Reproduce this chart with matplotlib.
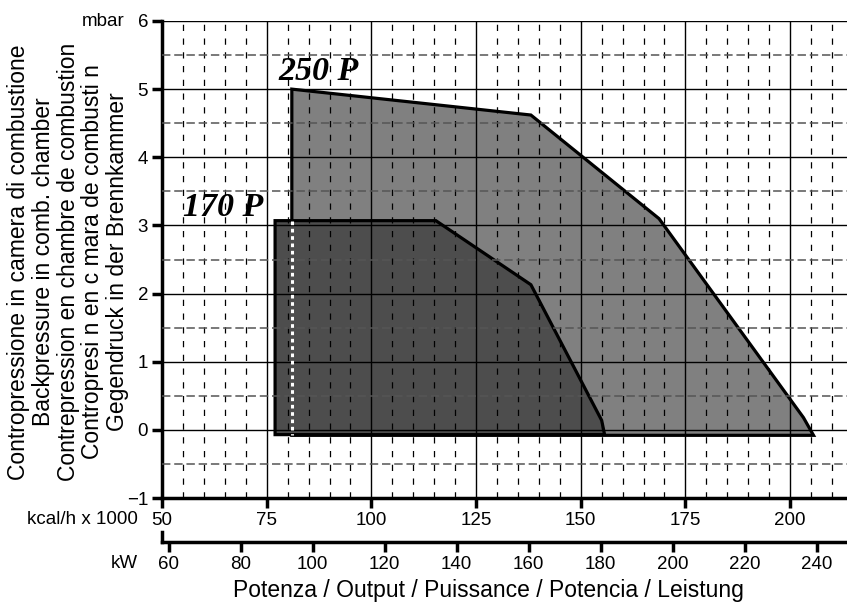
import matplotlib
matplotlib.use("Agg")
import matplotlib.pyplot as plt
from matplotlib.ticker import MultipleLocator
from matplotlib.lines import Line2D

plt.rcParams['font.family'] = ['Liberation Sans', 'DejaVu Sans']

# working ranges (kcal/h x 1000 vs mbar)
kcal_250 = [81.0, 138.1, 168.7, 203.2, 205.6, 81.0]
mbar_250 = [5.0, 4.62, 3.10, 0.18, -0.08, -0.08]
kcal_170 = [77.0, 115.4, 138.1, 155.0, 155.7, 77.0]
mbar_170 = [3.07, 3.07, 2.13, 0.14, -0.07, -0.07]

models = ['250 P', '170 P']
label_x = [87.3, 64.6]
label_y = [5.26, 3.26]

kcal_ticks = [50, 75, 100, 125, 150, 175, 200]
kw_ticks = [60, 80, 100, 120, 140, 160, 180, 200, 220, 240]
mbar_ticks = [-1, 0, 1, 2, 3, 4, 5, 6]
KW_PER_KCAL = 1.163

ylabel = ("Contropressione in camera di combustione\n"
          "Backpressure in comb. chamber\n"
          "Contrepression en chambre de combustion\n"
          "Contropresi n en c mara de combusti n\n"
          "Gegendruck in der Brennkammer")
xlabel = "Potenza / Output / Puissance / Potencia / Leistung"

fig = plt.figure(figsize=(8.47, 6.03), dpi=100)
ax = fig.add_axes([0.1913, 0.1741, 0.8087, 0.7911])

ax.fill(kcal_250, mbar_250, facecolor='#808080', edgecolor='black', lw=2.3, zorder=1)
ax.fill(kcal_170, mbar_170, facecolor='#4d4d4d', edgecolor='black', lw=2.3, zorder=1.1)
# hidden left edge of 250 P shown as white dots
ax.plot([kcal_250[0], kcal_250[0]], [mbar_170[0], mbar_250[-1]], color='white',
        lw=2.2, ls=(0, (1.2, 1.2)), zorder=3)

for name, tx, ty in zip(models, label_x, label_y):
    ax.text(tx, ty, name, family='Liberation Serif', weight='bold', style='italic',
            fontsize=24.5, ha='center', va='center', zorder=4)

ax.set_xlim(50, 213.6)
ax.set_ylim(-1, 6)
ax.set_xticks(kcal_ticks)
ax.set_yticks(mbar_ticks)
ax.xaxis.set_minor_locator(MultipleLocator(5))
ax.yaxis.set_minor_locator(MultipleLocator(0.5))

ax.set_axisbelow(False)
ax.grid(which='major', color='black', lw=1.0, ls='-')
ax.xaxis.grid(which='minor', color='black', lw=0.9, ls=(0, (5, 6)))
ax.yaxis.grid(which='minor', color='#555555', lw=1.1, ls=(0, (5.5, 2.5)))

ax.tick_params(which='major', direction='out', length=7.5, width=2.5, labelsize=13.5, pad=2.5)
ax.tick_params(which='minor', length=0)
for s in ['top', 'right']:
    ax.spines[s].set_visible(False)
for s in ['left', 'bottom']:
    ax.spines[s].set_linewidth(2.5)

# kW scale under the kcal scale
sec = ax.secondary_xaxis(-0.0922, functions=(lambda x: x * KW_PER_KCAL,
                                             lambda x: x / KW_PER_KCAL))
sec.set_xticks(kw_ticks)
sec.tick_params(direction='out', length=7.5, width=2.5, labelsize=13.5, pad=2.5)
for s in sec.spines.values():
    s.set_linewidth(2.5)
ax.add_line(Line2D([0, 0], [-0.0713, -0.0922], transform=ax.transAxes,
                   color='black', lw=2.5, clip_on=False))

fig.text(125 / 847, 1 - 26 / 603, 'mbar', fontsize=13.5, ha='right', va='baseline')
fig.text(138 / 847, 1 - 520 / 603, 'kcal/h x 1000', fontsize=13.5, ha='right', va='center')
fig.text(138 / 847, 1 - 564 / 603, 'kW', fontsize=13.5, ha='right', va='center')
fig.text(488 / 847, 1 - 590 / 603, xlabel, fontsize=16.5, ha='center', va='center')
fig.text(68 / 847, 1 - 262 / 603, ylabel, fontsize=16.5, rotation=90, ha='center',
         va='center', multialignment='center', linespacing=1.1)

fig.savefig('out.png', dpi=100)
